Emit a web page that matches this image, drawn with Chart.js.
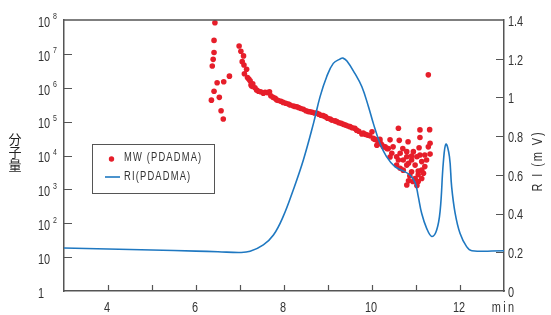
<!DOCTYPE html>
<html><head><meta charset="utf-8">
<script src="https://cdn.jsdelivr.net/npm/chart.js@4/dist/chart.umd.min.js"></script>
<style>html,body{margin:0;padding:0;background:#fff;}#wrap{width:551px;height:315px;}</style>
</head><body><div id="wrap"><canvas id="c" width="551" height="315"></canvas></div>
<script>
// ---- data ----
const riTime  = [3, 4, 5, 6, 6.5, 7, 7.23, 7.53, 7.76, 7.98, 8.21, 8.44, 8.67, 8.82, 8.97, 9.12, 9.27, 9.34, 9.43, 9.61, 9.77, 9.92, 10.03, 10.18, 10.33, 10.52, 10.71, 10.86, 10.98, 11.05, 11.13, 11.24, 11.36, 11.47, 11.55, 11.62, 11.68, 11.76, 11.81, 11.89, 12.0, 12.15, 12.27, 13];
const riValue = [0.222, 0.217, 0.212, 0.206, 0.203, 0.199, 0.205, 0.238, 0.289, 0.384, 0.522, 0.677, 0.866, 1.004, 1.107, 1.176, 1.198, 1.203, 1.188, 1.124, 1.055, 0.952, 0.866, 0.763, 0.694, 0.642, 0.620, 0.600, 0.560, 0.490, 0.400, 0.325, 0.282, 0.315, 0.418, 0.661, 0.759, 0.694, 0.539, 0.401, 0.298, 0.229, 0.208, 0.208];

const mwTime = [
 6.35, 6.37, 6.39, 6.41, 6.41, 6.41, 6.43, 6.48, 6.53, 6.57, 6.62, 6.63, 6.76,
 6.98, 7.02, 7.05, 7.08, 7.09, 7.10, 7.15, 7.17, 7.20, 7.23, 7.25, 7.27, 7.29, 7.34, 7.38, 7.42, 7.47, 7.53, 7.57, 7.62, 7.67, 7.70, 7.75, 7.80, 7.83, 7.87, 7.93, 7.98,
 8.04, 8.10, 8.14, 8.21, 8.25, 8.29, 8.33, 8.38, 8.44, 8.50, 8.55, 8.59, 8.64, 8.69, 8.74, 8.79, 8.84, 8.89, 8.94, 8.99,
 9.05, 9.09, 9.16, 9.20, 9.25, 9.30, 9.35, 9.40, 9.45, 9.50, 9.55, 9.61, 9.65, 9.70, 9.77, 9.80, 9.85, 9.90, 9.95,
 10.00, 10.03, 10.06, 10.10, 10.14, 10.18, 10.22, 10.26, 10.30, 10.34,
 10.60, 11.09, 11.31, 11.09, 10.18, 10.41, 10.62, 10.82, 11.32, 10.11, 10.37, 10.48, 10.70, 11.07, 11.28,
 10.94, 10.79, 10.45, 10.64, 10.79, 10.90, 11.02, 11.09, 11.20, 11.32, 10.41, 10.56, 10.60, 10.71, 10.90,
 11.13, 11.24, 10.83, 10.98, 10.56, 10.79, 11.20, 10.64, 10.71, 10.90, 11.05, 11.13, 11.17, 10.86, 11.05,
 10.98, 11.13, 10.83, 10.93, 11.05, 10.79, 11.02, 11.28, 10.18
];
const mwValue = [
 4.3e5, 4.4e6, 6.9e6, 1.1e7, 2.5e7, 7.9e5, 8.3e7, 1.4e6, 5.2e5, 2.1e5, 1.2e5, 1.5e6, 2.2e6,
 1.7e7, 1.2e7, 5.9e6, 8.7e6, 4.7e6, 2.6e6, 3.5e6, 2.0e6, 1.8e6, 1.6e6, 1.2e6, 1.1e6, 1.3e6, 1.0e6, 8.5e5, 7.9e5, 7.6e5, 6.9e5, 7.4e5, 7.2e5, 7.6e5, 5.8e5, 5.2e5, 4.9e5, 4.4e5, 4.2e5, 4.0e5, 3.7e5,
 3.5e5, 3.3e5, 3.1e5, 2.9e5, 2.8e5, 2.75e5, 2.6e5, 2.45e5, 2.3e5, 2.1e5, 2.0e5, 1.95e5, 1.9e5, 1.8e5, 1.8e5, 1.66e5, 1.55e5, 1.5e5, 1.4e5, 1.26e5,
 1.2e5, 1.1e5, 1.05e5, 1.0e5, 9.3e4, 8.9e4, 8.3e4, 7.9e4, 7.4e4, 7.1e4, 6.6e4, 6.3e4, 5.6e4, 5.2e4, 4.3e4, 4.6e4, 4.2e4, 4.0e4, 3.8e4,
 5.0e4, 3.2e4, 3.0e4, 2.9e4, 2.6e4, 2.3e4, 2.1e4, 1.8e4, 1.8e4, 1.6e4,
 6.4e4, 5.7e4, 5.8e4, 3.4e4, 2.55e4, 2.9e4, 2.8e4, 2.55e4, 2.3e4, 2.0e4, 1.6e4, 1.8e4, 1.6e4, 1.7e4, 1.8e4,
 1.3e4, 1.3e4, 1.16e4, 1.16e4, 9.2e3, 9.7e3, 9.2e3, 1.03e4, 1.03e4, 1.1e4, 9.0e3, 9.2e3, 7.4e3, 7.4e3, 7.4e3,
 6.6e3, 7.4e3, 5.9e3, 5.2e3, 5.2e3, 5.2e3, 4.7e3, 4.2e3, 3.7e3, 3.3e3, 3.5e3, 3.7e3, 3.0e3, 2.5e3, 2.7e3,
 2.1e3, 2.1e3, 1.8e3, 1.7e3, 1.7e3, 1.35e3, 1.3e3, 2.4e6, 3.0e4
];

const xTicks = [3, 4, 5, 6, 7, 8, 9, 10, 11, 12, 13];
const xLabels = {4: '4', 6: '6', 8: '8', 10: '10', 12: '12', 13: 'min'};
const yLeftTicks = [1, 10, 1e2, 1e3, 1e4, 1e5, 1e6, 1e7, 1e8];
const yRightTicks = [0, 0.2, 0.4, 0.6, 0.8, 1.0, 1.2, 1.4];
const yRightLabels = ['0', '0.2', '0.4', '0.6', '0.8', '1', '1.2', '1.4'];
const leftTitle = ['分', '子', '量'];
const rightTitle = 'R I (m V)';
const legendLabels = ['MW (PDADMA)', 'RI(PDADMA)'];

// ---- styles ----
const RED = '#e61e2a', BLUE = '#1f78c1', AXIS = '#555', TXT = '#333';
const FONT = "'Liberation Sans', Arial, sans-serif";
const SX = 0.78; // condensed look

function txt(ctx, s, x, y, size, align, spacing) {
  ctx.save();
  ctx.translate(x, y); ctx.scale(SX, 1);
  ctx.font = size + 'px ' + FONT;
  ctx.letterSpacing = (spacing || 0) + 'px';
  ctx.textAlign = align; ctx.textBaseline = 'middle';
  ctx.fillText(s, 0, 0);
  ctx.restore();
}

const deco = {
  id: 'deco',
  afterDraw(chart) {
    const {ctx, chartArea: a, scales: {x, y, y2}} = chart;
    ctx.save();
    ctx.strokeStyle = AXIS; ctx.lineWidth = 1.5;
    ctx.beginPath(); ctx.moveTo(a.left, a.top); ctx.lineTo(a.right, a.top); ctx.stroke();
    ctx.lineWidth = 1.2;
    ctx.beginPath();
    xTicks.slice(1, -1).forEach(v => { const p = Math.round(x.getPixelForValue(v)) + 0.5; ctx.moveTo(p, a.bottom); ctx.lineTo(p, a.bottom - 6); });
    yLeftTicks.slice(1, -1).forEach(v => { const p = Math.round(y.getPixelForValue(v)) + 0.5; ctx.moveTo(a.left, p); ctx.lineTo(a.left + 8, p); });
    yRightTicks.slice(1, -1).forEach(v => { const p = Math.round(y2.getPixelForValue(v)) + 0.5; ctx.moveTo(a.right, p); ctx.lineTo(a.right - 8, p); });
    ctx.stroke();

    ctx.fillStyle = TXT;
    // x tick labels
    xTicks.forEach(v => {
      const s = xLabels[v]; if (!s) return;
      const px = x.getPixelForValue(v) - (v === 13 ? 0 : 1);
      txt(ctx, s, px, a.bottom + 17, 14, 'center', v === 13 ? 3 : 0);
    });
    // right tick labels
    yRightTicks.forEach((v, i) => txt(ctx, yRightLabels[i], a.right + 4, y2.getPixelForValue(v) + 2, 14, 'left'));
    // left tick labels with superscript exponents
    yLeftTicks.forEach(v => {
      const p = y.getPixelForValue(v);
      const e = Math.round(Math.log10(v));
      const base = e === 0 ? '1' : '10';
      txt(ctx, base, 38, p + 3, 14, 'left');
      if (e >= 2) txt(ctx, String(e), 53, p - 3, 9, 'left');
    });

    // left title (vertical stacked)
    ctx.font = "13px 'Noto Sans CJK JP', 'Noto Sans CJK SC', sans-serif";
    ctx.textAlign = 'center'; ctx.textBaseline = 'middle'; ctx.fillStyle = '#222';
    leftTitle.forEach((ch, i) => ctx.fillText(ch, 15, 139 + i * 13));

    // right title (rotated, reading bottom-to-top)
    ctx.save();
    ctx.translate(538, 161); ctx.rotate(-Math.PI / 2);
    ctx.fillStyle = TXT;
    txt(ctx, rightTitle, 0, 0, 14, 'center', 2.5);
    ctx.restore();

    // legend
    ctx.strokeStyle = '#555'; ctx.lineWidth = 1;
    ctx.strokeRect(92.5, 144.5, 122, 49);
    ctx.fillStyle = RED; ctx.beginPath(); ctx.arc(111.5, 159, 2.7, 0, Math.PI * 2); ctx.fill();
    ctx.strokeStyle = BLUE; ctx.lineWidth = 1.6;
    ctx.beginPath(); ctx.moveTo(105, 177); ctx.lineTo(120, 177); ctx.stroke();
    ctx.fillStyle = TXT;
    txt(ctx, legendLabels[0], 124, 158, 12, 'left', 1.5);
    txt(ctx, legendLabels[1], 124, 177, 12, 'left', 1.5);
    ctx.restore();
  }
};

new Chart(document.getElementById('c'), {
  type: 'scatter',
  data: {
    datasets: [
      {
        type: 'line', label: legendLabels[1], yAxisID: 'y2', order: 1,
        data: riTime.map((t, i) => ({x: t, y: riValue[i]})),
        borderColor: BLUE, borderWidth: 1.6, pointRadius: 0, fill: false,
        tension: 0.4, clip: false
      },
      {
        type: 'scatter', label: legendLabels[0], yAxisID: 'y', order: 2,
        data: mwTime.map((t, i) => ({x: t, y: mwValue[i]})),
        backgroundColor: RED, borderWidth: 0, pointRadius: 2.8, clip: false
      }
    ]
  },
  options: {
    responsive: false, animation: false, devicePixelRatio: 1,
    layout: {padding: {top: 20, left: 0, right: 0, bottom: 0}},
    plugins: {legend: {display: false}, tooltip: {enabled: false}},
    scales: {
      x: {
        type: 'linear', min: 3, max: 13, position: 'bottom',
        afterBuildTicks: s => { s.ticks = xTicks.map(v => ({value: v})); },
        afterFit: s => { s.height = 24; },
        grid: {display: false, drawTicks: false},
        border: {display: true, color: AXIS, width: 1.5},
        ticks: {display: false}
      },
      y: {
        type: 'logarithmic', min: 1, max: 1e8, position: 'left',
        afterBuildTicks: s => { s.ticks = yLeftTicks.map(v => ({value: v})); },
        afterFit: s => { s.width = 64; },
        grid: {display: false, drawTicks: false},
        border: {display: true, color: AXIS, width: 1.5},
        ticks: {display: false}
      },
      y2: {
        type: 'linear', min: 0, max: 1.4, position: 'right',
        afterBuildTicks: s => { s.ticks = yRightTicks.map(v => ({value: v})); },
        afterFit: s => { s.width = 47; },
        grid: {display: false, drawTicks: false},
        border: {display: true, color: AXIS, width: 1.5},
        ticks: {display: false}
      }
    }
  },
  plugins: [deco]
});
</script>
</body></html>
